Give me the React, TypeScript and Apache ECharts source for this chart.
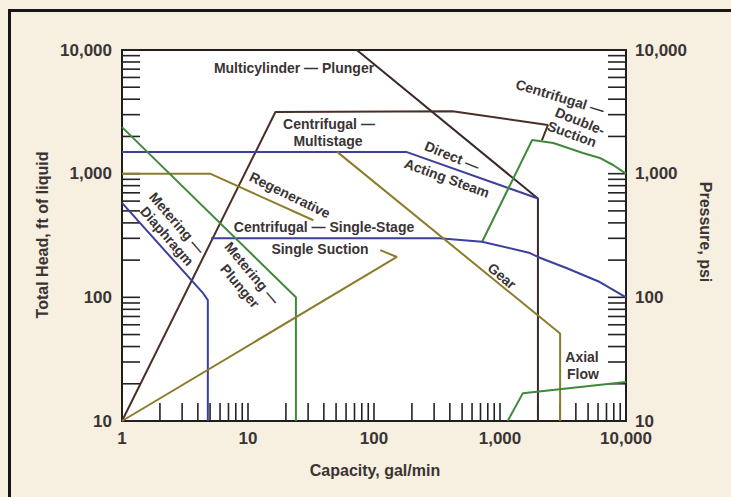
import React, { useEffect, useRef } from 'react';
import * as echarts from 'echarts';

// ---- axis ticks / labels ----
const xTickLabels = ['1', '10', '100', '1,000', '10,000'];
const yTickLabels = ['10', '100', '1,000', '10,000'];
const minorSteps = [1, 2, 3, 4, 5, 6, 7, 8, 9];
const xDecades = [1, 10, 100, 1000];
const yDecades = [10, 100, 1000];

// ---- curves: [capacity gal/min, total head ft] ----
const multicylinderPlunger = [[73, 10000], [2000, 630], [2000, 10]];
const centrifugalMultistage = [[1, 10], [16.5, 3150], [420, 3200], [2400, 2470], [2150, 1860]];
const directActingSteam = [[1, 1500], [180, 1500], [2000, 630]];
const centrifugalDoubleSuction = [[720, 280], [1800, 1870], [2650, 1770], [4550, 1470], [6200, 1340], [7900, 1175], [10000, 1000]];
const centrifugalSingleStage = [[5.1, 300], [330, 300], [720, 282], [1730, 228], [2000, 212], [3400, 172], [6200, 133], [10000, 100]];
const regenerative = [[1, 1000], [5, 1000], [33, 420]];
const meteringPlunger = [[1, 2380], [24, 100], [24, 10]];
const meteringDiaphragm = [[1, 580], [4.4, 108], [4.8, 95], [4.8, 10]];
const gear = [[51, 1500], [3000, 51], [3000, 10]];
const singleSuction = [[1, 10], [152, 212], [112, 241]];
const axialFlow = [[1150, 10], [1520, 16.8], [10000, 20.7]];

const BLUE = '#3c3f9c';
const BROWN = '#4a2f27';
const OLIVE = '#8c7c2a';
const GREEN = '#3f8a3a';
const TEXT = '#3a3434';
const LABEL_FONT = 'bold 14px "Liberation Sans", Arial, sans-serif';
const TITLE_FONT = 'bold 16px "Liberation Sans", Arial, sans-serif';

const deg = (d: number) => (d * Math.PI) / 180;

function label(text: string, x: number, y: number, rot = 0) {
  return {
    type: 'text',
    x,
    y,
    rotation: deg(rot),
    z: 50,
    style: { text, font: LABEL_FONT, fill: TEXT, align: 'center', verticalAlign: 'middle' },
  };
}

export default function App() {
  const ref = useRef<HTMLDivElement>(null);

  useEffect(() => {
    if (!ref.current) return;
    const chart = echarts.init(ref.current, undefined, { renderer: 'svg' });

    const tickData: number[][] = [];
    xDecades.forEach((d) => minorSteps.forEach((m) => tickData.push([d * m, 10, 0])));
    tickData.push([10000, 10, 0]);
    yDecades.forEach((d) =>
      minorSteps.forEach((m) => {
        tickData.push([1, d * m, 1]);
        tickData.push([10000, d * m, 2]);
      })
    );
    tickData.push([1, 10000, 1], [10000, 10000, 2]);

    const lineSeries = (name: string, data: number[][], color: string) => ({
      name,
      type: 'line',
      data,
      symbol: 'none',
      silent: true,
      clip: true,
      z: 10,
      lineStyle: { color, width: 2 },
    });

    const axisLabelCommon = {
      fontFamily: '"Liberation Sans", Arial, sans-serif',
      fontSize: 17,
      fontWeight: 'bold',
      color: '#3a3535',
    };

    chart.setOption({
      animation: false,
      backgroundColor: '#f7efdf',
      grid: {
        left: 122,
        top: 50,
        right: 105,
        bottom: 76,
        show: true,
        backgroundColor: '#ffffff',
        borderColor: '#1e1e1e',
        borderWidth: 2,
      },
      xAxis: {
        type: 'log',
        logBase: 10,
        min: 1,
        max: 10000,
        axisLine: { show: false },
        axisTick: { show: false },
        splitLine: { show: false },
        axisLabel: {
          ...axisLabelCommon,
          margin: 9,
          formatter: (v: number) => xTickLabels[Math.round(Math.log10(v))] ?? '',
        },
      },
      yAxis: [
        {
          type: 'log',
          logBase: 10,
          min: 10,
          max: 10000,
          position: 'left',
          axisLine: { show: false },
          axisTick: { show: false },
          splitLine: { show: false },
          axisLabel: {
            ...axisLabelCommon,
            margin: 10,
            padding: [0, 0, 6, 0],
            formatter: (v: number) => yTickLabels[Math.round(Math.log10(v)) - 1] ?? '',
          },
        },
        {
          type: 'log',
          logBase: 10,
          min: 10,
          max: 10000,
          position: 'right',
          axisLine: { show: false },
          axisTick: { show: false },
          splitLine: { show: false },
          axisLabel: {
            ...axisLabelCommon,
            margin: 9,
            padding: [0, 0, 6, 0],
            formatter: (v: number) => yTickLabels[Math.round(Math.log10(v)) - 1] ?? '',
          },
        },
      ],
      series: [
        {
          type: 'custom',
          name: 'ticks',
          silent: true,
          z: 5,
          data: tickData,
          encode: { x: 0, y: 1 },
          renderItem: (params: any, api: any) => {
            const p = api.coord([api.value(0), api.value(1)]);
            const k = api.value(2);
            const L = 18;
            let shape;
            if (k === 0) shape = { x1: p[0], y1: p[1], x2: p[0], y2: p[1] - L };
            else if (k === 1) shape = { x1: p[0], y1: p[1], x2: p[0] + L, y2: p[1] };
            else shape = { x1: p[0], y1: p[1], x2: p[0] - L, y2: p[1] };
            return { type: 'line', shape, style: { stroke: '#222', lineWidth: 1.6 } };
          },
        },
        lineSeries('Multicylinder — Plunger', multicylinderPlunger, '#3a2a25'),
        lineSeries('Centrifugal — Multistage', centrifugalMultistage, BROWN),
        lineSeries('Direct — Acting Steam', directActingSteam, BLUE),
        lineSeries('Centrifugal — Double-Suction', centrifugalDoubleSuction, GREEN),
        lineSeries('Centrifugal — Single-Stage', centrifugalSingleStage, BLUE),
        lineSeries('Regenerative', regenerative, OLIVE),
        lineSeries('Metering — Plunger', meteringPlunger, GREEN),
        lineSeries('Metering — Diaphragm', meteringDiaphragm, BLUE),
        lineSeries('Gear', gear, OLIVE),
        lineSeries('Single Suction', singleSuction, OLIVE),
        lineSeries('Axial Flow', axialFlow, GREEN),
      ],
      graphic: [
        {
          type: 'rect',
          shape: { x: 9.5, y: 10.5, width: 900, height: 700 },
          style: { fill: 'none', stroke: '#161616', lineWidth: 3 },
          silent: true,
          z: 1,
        },
        label('Multicylinder — Plunger', 294, 68),
        label('Centrifugal —', 329, 124),
        label('Multistage', 328, 141),
        label('Direct —', 452, 156, -22),
        label('Acting Steam', 447, 178, -20),
        label('Centrifugal —', 560, 97, -17),
        label('Double-', 580, 121, -22),
        label('Suction', 572, 134, -20),
        label('Regenerative', 290, 195, -26),
        label('Centrifugal — Single-Stage', 324, 227),
        label('Single Suction', 320, 249),
        label('Metering —', 177, 223, -49),
        label('Diaphragm', 167, 236, -49),
        label('Metering —', 252, 273, -50),
        label('Plunger', 240, 286, -50),
        label('Gear', 502, 276, -40),
        label('Axial', 582, 357),
        label('Flow', 583, 374),
        {
          type: 'text',
          x: 42,
          y: 235,
          rotation: deg(90),
          style: { text: 'Total Head, ft of liquid', font: TITLE_FONT, fill: TEXT, align: 'center', verticalAlign: 'middle' },
        },
        {
          type: 'text',
          x: 705,
          y: 232,
          rotation: deg(-90),
          style: { text: 'Pressure, psi', font: TITLE_FONT, fill: TEXT, align: 'center', verticalAlign: 'middle' },
        },
        {
          type: 'text',
          x: 375,
          y: 470,
          style: { text: 'Capacity, gal/min', font: TITLE_FONT, fill: TEXT, align: 'center', verticalAlign: 'middle' },
        },
      ],
    });

    return () => chart.dispose();
  }, []);

  return (
    <div
      ref={ref}
      style={{ position: 'fixed', left: 0, top: 0, width: 731, height: 497 }}
    />
  );
}
